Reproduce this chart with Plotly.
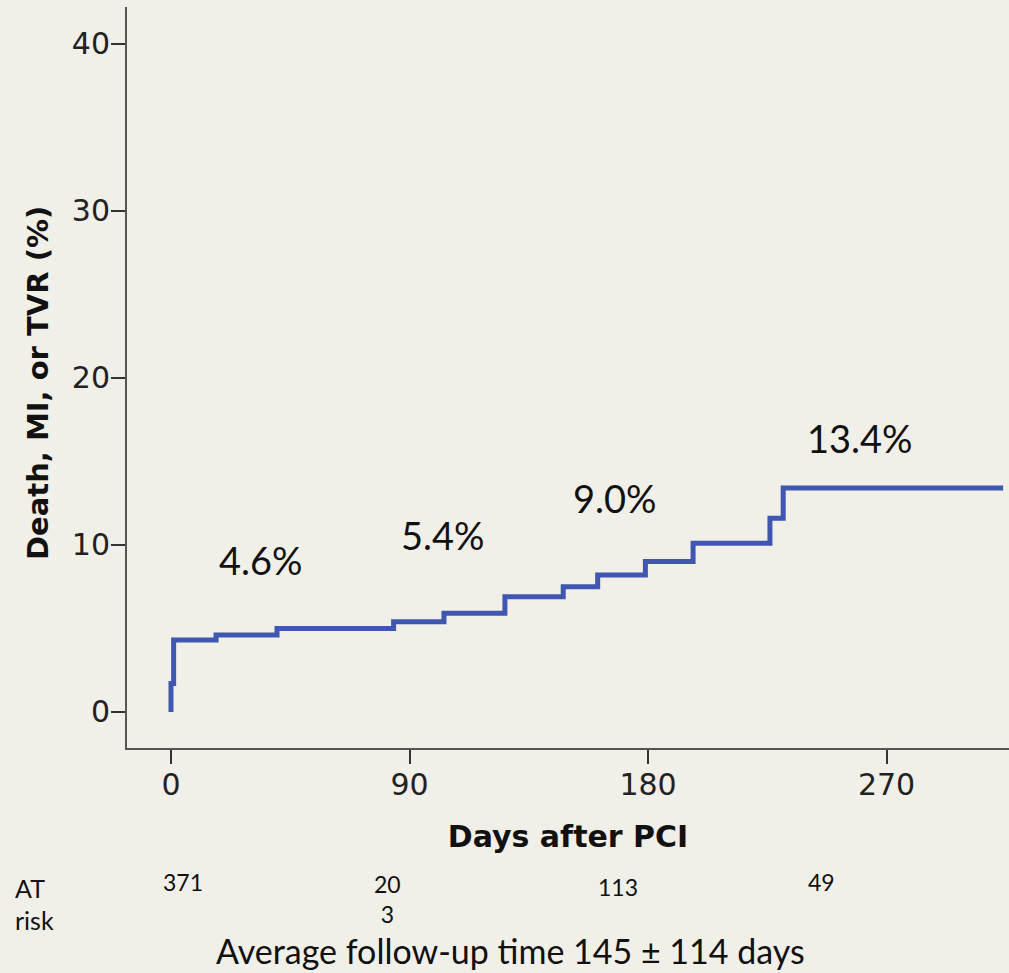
import plotly.graph_objects as go

# Kaplan-Meier style cumulative event curve
days = [0, 0, 1, 17, 40, 84, 103, 126, 148, 161, 179, 197, 226, 231, 314]
event_pct = [0, 1.7, 4.3, 4.6, 5.0, 5.4, 5.9, 6.9, 7.5, 8.2, 9.0, 10.1, 11.6, 13.4, 13.4]

# rate labels on the chart
label_text = ["4.6%", "5.4%", "9.0%", "13.4%"]
label_x = [34, 102.6, 167.5, 260]
label_y = [9.1, 10.6, 12.8, 16.4]

x_ticks = [0, 90, 180, 270]
y_ticks = [0, 10, 20, 30, 40]

# numbers at risk
risk_values = ["371", "20<br>3", "113", "49"]
risk_x_px = [183, 387, 618, 821]
risk_y_px = [882, 899, 887, 882]

BG = "#f0efe8"
LINE = "#3f57b0"

L, R, T, B = 127, 0, 7, 225
W, H = 1009, 973
PW, PH = W - L - R, H - T - B


def px_to_paper(px, py):
    return (px - L) / PW, (H - B - py) / PH


fig = go.Figure()
fig.add_trace(go.Scatter(
    x=days, y=event_pct, mode="lines",
    line=dict(shape="hv", color=LINE, width=5),
    hoverinfo="skip", showlegend=False,
))

for t, x, y in zip(label_text, label_x, label_y):
    fig.add_annotation(x=x, y=y, text=t, showarrow=False,
                       font=dict(family="Lato", size=38, color="#111"),
                       xanchor="center", yanchor="middle")

num_font = dict(family="Lato", size=23, color="#111")
for t, px, py in zip(risk_values, risk_x_px, risk_y_px):
    xp, yp = px_to_paper(px, py)
    fig.add_annotation(x=xp, y=yp, xref="paper", yref="paper", text=t,
                       showarrow=False, font=num_font,
                       xanchor="center", yanchor="middle")

word_font = dict(family="Lato", size=25, color="#111")
for t, px, py in [("AT", 13, 888), ("risk", 13, 920)]:
    xp, yp = px_to_paper(px, py)
    fig.add_annotation(x=xp, y=yp, xref="paper", yref="paper", text=t,
                       showarrow=False, font=word_font,
                       xanchor="left", yanchor="middle")

xp, yp = px_to_paper(510, 950)
fig.add_annotation(x=xp, y=yp, xref="paper", yref="paper",
                   text="Average follow-up time 145 ± 114 days",
                   showarrow=False, font=dict(family="Lato", size=34, color="#111"),
                   xanchor="center", yanchor="middle")

# y-axis title placed as rotated annotation
xp, yp = px_to_paper(38, 383)
fig.add_annotation(x=xp, y=yp, xref="paper", yref="paper",
                   text="<b>Death, MI, or TVR (%)</b>", textangle=-90,
                   showarrow=False,
                   font=dict(family="DejaVu Sans", size=29, color="#111"),
                   xanchor="center", yanchor="middle")

axis_common = dict(
    showgrid=False, zeroline=False, showline=True, linecolor="#555",
    linewidth=2, ticks="outside", ticklen=14, tickwidth=2, tickcolor="#333",
    tickfont=dict(family="DejaVu Sans", size=30, color="#222"),
)

fig.update_layout(
    width=W, height=H,
    margin=dict(l=L, r=R, t=T, b=B),
    paper_bgcolor=BG, plot_bgcolor=BG,
    xaxis=dict(range=[-16.6, 316.2], tickvals=x_ticks,
               title=dict(text="<b>Days after PCI</b>", standoff=25,
                          font=dict(family="DejaVu Sans", size=30, color="#111")),
               ticklabelstandoff=-5,
               **axis_common),
    yaxis=dict(range=[-2.16, 42.2], tickvals=y_ticks,
               ticklabelstandoff=-5,
               **axis_common),
)

fig.write_html(
    "out.html",
    config={"displayModeBar": False},
    post_script="document.body.style.margin='0';"
                "document.documentElement.style.overflow='hidden';",
)
